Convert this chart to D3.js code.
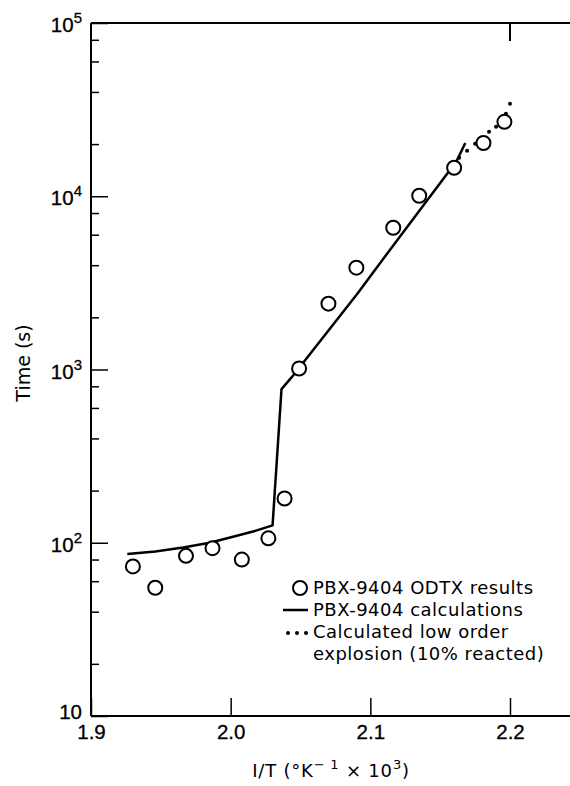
<!DOCTYPE html>
<html>
<head>
<meta charset="utf-8">
<script src="https://cdn.jsdelivr.net/npm/d3@7"></script>
<style>
  body { margin: 0; background: #fff; }
  svg { display: block; font-family: "Liberation Sans", Arial, sans-serif; }
  .wide { font-family: "DejaVu Sans", sans-serif; }
</style>
</head>
<body>
<svg></svg>
<script>
// ODTX measurements: 1/T (x1e3) and time to explosion (s)
let odtxX = [1.930, 1.946, 1.968, 1.987, 2.008, 2.027, 2.0386, 2.049, 2.070, 2.090, 2.1164, 2.135, 2.160, 2.181, 2.196];
let odtxT = [73, 55, 84, 93, 80, 106, 180, 1013, 2400, 3870, 6580, 10070, 14600, 20300, 26900];

// calculated curve
let calcX = [1.926, 1.946, 1.966, 1.985, 2.001, 2.016, 2.030, 2.0364, 2.0436, 2.0907, 2.1136, 2.155, 2.161, 2.168];
let calcT = [86, 89, 94, 100, 108, 116, 126, 770, 900, 2740, 4850, 13500, 15500, 20300];

// calculated low order explosion (dotted)
let lowX = [2.1636, 2.1693, 2.175, 2.185, 2.190, 2.1943, 2.1971, 2.200];
let lowT = [16670, 18300, 20080, 23540, 25160, 27230, 29900, 34140];

let xTicks = [1.9, 2.0, 2.1, 2.2];
let yMajor = [10, 100, 1000, 10000, 100000];
let yMinor = [20, 40, 60, 80, 200, 400, 600, 800, 2000, 4000, 6000, 8000, 20000, 40000, 60000, 80000];
let legendLabels = ["PBX-9404 ODTX results", "PBX-9404 calculations", "Calculated low order", "explosion (10% reacted)"];

const w = 570;
const h = 786;
const pLeft = 91;
const pRight = 570;
const pTop = 23;
const pBottom = 716;

let svg = d3.select('svg').attr('width', w).attr('height', h);

let xScale = d3.scaleLinear()
               .domain([1.9, 2.2])
               .range([pLeft, 510]);
let yScale = d3.scaleLog()
               .domain([10, 100000])
               .range([pBottom, pTop]);

// frame lines
svg.append('line')
   .attr('x1', pLeft).attr('x2', pRight)
   .attr('y1', pTop).attr('y2', pTop)
   .attr('stroke', '#000').attr('stroke-width', 2);
svg.append('line')
   .attr('x1', xScale(2.2)).attr('x2', xScale(2.2))
   .attr('y1', pTop).attr('y2', pTop + 18)
   .attr('stroke', '#000').attr('stroke-width', 2);

// x axis
let xAxis = d3.axisBottom(xScale)
              .tickValues(xTicks)
              .tickFormat(d3.format('.1f'))
              .tickSizeInner(-18)
              .tickSizeOuter(0)
              .tickPadding(8);
let gx = svg.append('g')
   .attr('transform', `translate(0, ${pBottom})`)
   .call(xAxis);
gx.attr('font-family', null);
gx.select('.domain').attr('d', `M${pLeft},0H${pRight}`).attr('stroke-width', 2);
gx.selectAll('line').attr('stroke-width', 1.5);
gx.selectAll('text').attr('font-size', 20.5).attr('fill', '#000')
  .attr('stroke', '#000').attr('stroke-width', 0.3);

// y axis, major and minor ticks
let yAxisMajor = d3.axisRight(yScale)
                   .tickValues(yMajor)
                   .tickFormat('')
                   .tickSizeOuter(0)
                   .tickSize(17);
let gy = svg.append('g')
   .attr('transform', `translate(${pLeft}, 0)`)
   .call(yAxisMajor);
gy.select('.domain').attr('d', `M0,${pBottom}V${pTop}`).attr('stroke-width', 2);
gy.selectAll('line').attr('stroke-width', 1.5);

let yAxisMinor = d3.axisRight(yScale)
                   .tickValues(yMinor)
                   .tickFormat('')
                   .tickSize(8);
let gym = svg.append('g')
   .attr('transform', `translate(${pLeft}, 0)`)
   .call(yAxisMinor);
gym.select('.domain').remove();
gym.selectAll('line').attr('stroke-width', 1.5);

// y tick labels with superscript exponents
yMajor.forEach((v) => {
    let e = Math.round(Math.log10(v));
    let t = svg.append('text')
       .attr('x', 82)
       .attr('y', yScale(v) + (e === 1 ? 3 : 9))
       .attr('text-anchor', 'end')
       .attr('font-size', 20.5)
       .attr('stroke', '#000').attr('stroke-width', 0.3);
    t.append('tspan').text('10');
    if (e > 1) {
        t.append('tspan').attr('font-size', 15).attr('dy', -9).text(e);
    }
});

// axis titles
let xt = svg.append('text')
   .attr('class', 'wide')
   .attr('x', 331).attr('y', 777)
   .attr('text-anchor', 'middle')
   .attr('font-size', 18)
   .attr('letter-spacing', 0.8);
xt.append('tspan').text('I/T (°K');
xt.append('tspan').attr('font-size', 13).attr('dy', -8).text('− 1');
xt.append('tspan').attr('dy', 8).text(' × 10');
xt.append('tspan').attr('font-size', 13).attr('dy', -8).text('3');
xt.append('tspan').attr('dy', 8).text(')');

svg.append('text')
   .attr('class', 'wide')
   .attr('transform', 'translate(30, 363) rotate(-90)')
   .attr('text-anchor', 'middle')
   .attr('font-size', 19)
   .text('Time (s)');

// calculated line
let line = d3.line()
             .x((d) => xScale(d[0]))
             .y((d) => yScale(d[1]));
svg.append('path')
   .datum(calcX.map((x, i) => [x, calcT[i]]))
   .attr('d', line)
   .attr('fill', 'none')
   .attr('stroke', '#000')
   .attr('stroke-width', 2.5)
   .attr('stroke-linejoin', 'round');

// low order explosion dots
svg.selectAll('.low')
   .data(lowX.map((x, i) => [x, lowT[i]]))
   .enter()
   .append('circle')
   .attr('class', 'low')
   .attr('cx', (d) => xScale(d[0]))
   .attr('cy', (d) => yScale(d[1]))
   .attr('r', 2)
   .attr('fill', '#000');

// ODTX circles
svg.selectAll('.odtx')
   .data(odtxX.map((x, i) => [x, odtxT[i]]))
   .enter()
   .append('circle')
   .attr('class', 'odtx')
   .attr('cx', (d) => xScale(d[0]))
   .attr('cy', (d) => yScale(d[1]))
   .attr('r', 7)
   .attr('fill', '#fff')
   .attr('stroke', '#000')
   .attr('stroke-width', 2);

// legend
let lg = svg.append('g');
lg.append('circle').attr('cx', 300).attr('cy', 588).attr('r', 7)
  .attr('fill', '#fff').attr('stroke', '#000').attr('stroke-width', 2);
lg.append('line').attr('x1', 283).attr('x2', 308).attr('y1', 610).attr('y2', 610)
  .attr('stroke', '#000').attr('stroke-width', 2.5);
[288, 297, 306].forEach((cx) => {
    lg.append('circle').attr('cx', cx).attr('cy', 633).attr('r', 2).attr('fill', '#000');
});
legendLabels.forEach((s, i) => {
    lg.append('text')
      .attr('class', 'wide')
      .attr('x', 313)
      .attr('y', 594 + i * 22)
      .attr('font-size', 18)
      .attr('letter-spacing', 0.5)
      .text(s);
});
</script>
</body>
</html>
